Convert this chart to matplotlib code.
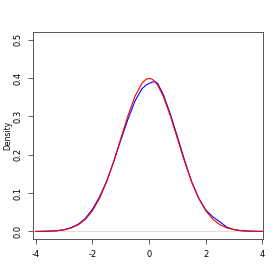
import numpy as np
import matplotlib.pyplot as plt

# grid of x values
x = [-4.0, -3.75, -3.5, -3.25, -3.0, -2.75, -2.5, -2.25, -2.0, -1.75, -1.5,
     -1.25, -1.0, -0.75, -0.5, -0.25, -0.1, 0.0, 0.1, 0.2, 0.3, 0.5, 0.75,
     1.0, 1.25, 1.5, 1.75, 2.0, 2.25, 2.5, 2.75, 3.0, 3.25, 3.5, 3.75, 4.0]

# kernel density estimate (blue)
dens_kde = [0.0, 0.0003, 0.0008, 0.0018, 0.0045, 0.010, 0.019, 0.034, 0.058,
            0.090, 0.131, 0.182, 0.238, 0.292, 0.340, 0.372, 0.382, 0.386,
            0.389, 0.390, 0.386, 0.357, 0.306, 0.247, 0.186, 0.130, 0.087,
            0.056, 0.038, 0.025, 0.011, 0.005, 0.002, 0.001, 0.0005, 0.0002]

# normal curve (red)
dens_norm = [0.0001, 0.0004, 0.0009, 0.0020, 0.0044, 0.0091, 0.0175, 0.0317,
             0.0540, 0.0863, 0.1295, 0.1826, 0.2420, 0.3011, 0.3521, 0.3867,
             0.3970, 0.3989, 0.3970, 0.3910, 0.3814, 0.3521, 0.3011, 0.2420,
             0.1826, 0.1295, 0.0863, 0.0540, 0.0317, 0.0175, 0.0091, 0.0044,
             0.0020, 0.0009, 0.0004, 0.0001]

xticks = [-4, -2, 0, 2, 4]
yticks = [0.0, 0.1, 0.2, 0.3, 0.4, 0.5]

fig = plt.figure(figsize=(2.8, 2.8), dpi=100)
ax = fig.add_axes([0.118, 0.146, 0.821, 0.740])

ax.axhline(0, color='#e0e0e0', lw=0.8, zorder=1)
ax.plot(x, dens_kde, color='blue', lw=0.8, zorder=2)
ax.plot(x, dens_norm, color='red', lw=0.8, zorder=3)

ax.set_xlim(-4.1, 4.02)
ax.set_ylim(-0.02, 0.52)
ax.set_xticks(xticks)
ax.set_xticklabels([str(t) for t in xticks])
ax.set_yticks(yticks)
ax.set_yticklabels(['%.1f' % t for t in yticks], rotation=90, va='center')
ax.tick_params(labelsize=6, length=3.5, width=0.6, color='#444444', pad=4)
for s in ax.spines.values():
    s.set_color('#555555')
    s.set_linewidth(0.7)
ax.set_ylabel('Density', fontsize=5.5)
ax.yaxis.set_label_coords(-0.092, 0.5)

fig.savefig('out.png', dpi=100)
